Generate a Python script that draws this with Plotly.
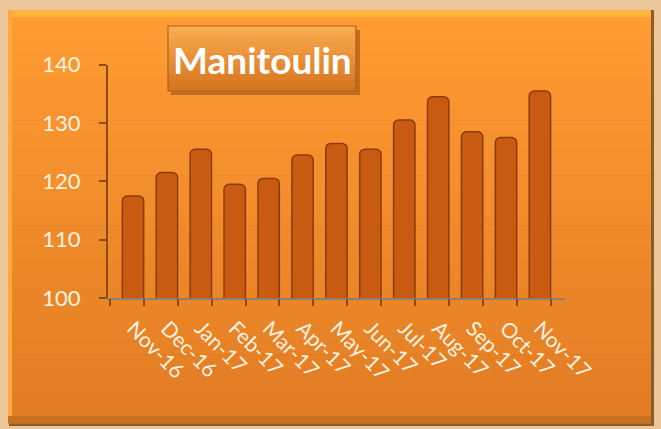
import plotly.graph_objects as go

W, H = 661, 429

months = ["Nov-16", "Dec-16", "Jan-17", "Feb-17", "Mar-17", "Apr-17", "May-17",
          "Jun-17", "Jul-17", "Aug-17", "Sep-17", "Oct-17", "Nov-17"]
values = [117.5, 121.5, 125.5, 119.5, 120.5, 124.5, 126.5, 125.5, 130.5, 134.5, 128.5, 127.5, 135.5]
y_ticks = [100, 110, 120, 130, 140]
title_text = "Manitoulin"


def px_x(p):
    return p / W


def px_y(p):
    return 1 - p / H


def mix(c1, c2, t):
    return "rgb(%d,%d,%d)" % tuple(round(a + (b - a) * t) for a, b in zip(c1, c2))


shapes = []
shapes.append(dict(type="rect", xref="paper", yref="paper", x0=0, x1=1, y0=0, y1=1,
                   fillcolor="#EAC69A", line=dict(width=0), layer="below"))
shapes.append(dict(type="rect", xref="paper", yref="paper", x0=px_x(9), x1=px_x(654),
                   y0=px_y(426), y1=px_y(10), fillcolor="#8E5A2A", line=dict(width=0), layer="below"))
top_c, bot_c = (255, 156, 50), (226, 124, 36)
N = 30
y_top, y_bot = 10, 423
for i in range(N):
    a = y_top + (y_bot - y_top) * i / N
    b = y_top + (y_bot - y_top) * (i + 1) / N + 0.6
    shapes.append(dict(type="rect", xref="paper", yref="paper", x0=px_x(8), x1=px_x(651),
                       y0=px_y(b), y1=px_y(a), fillcolor=mix(top_c, bot_c, i / (N - 1)),
                       line=dict(width=0), layer="below"))
shapes.append(dict(type="rect", xref="paper", yref="paper", x0=px_x(8), x1=px_x(651),
                   y0=px_y(17), y1=px_y(10), fillcolor="#FFB540", line=dict(width=0), layer="below"))
shapes.append(dict(type="rect", xref="paper", yref="paper", x0=px_x(8), x1=px_x(12),
                   y0=px_y(423), y1=px_y(10), fillcolor="#FFAA3C", line=dict(width=0), layer="below"))
shapes.append(dict(type="rect", xref="paper", yref="paper", x0=px_x(8), x1=px_x(651),
                   y0=px_y(423), y1=px_y(416), fillcolor="#C9731F", line=dict(width=0), layer="below"))

shapes.append(dict(type="rect", xref="paper", yref="paper", x0=px_x(171), x1=px_x(360),
                   y0=px_y(95), y1=px_y(30), fillcolor="rgba(120,60,10,0.45)", line=dict(width=0), layer="below"))
tb_top, tb_bot = (250, 170, 80), (214, 118, 32)
NT = 12
for i in range(NT):
    a = 26 + (91 - 26) * i / NT
    b = 26 + (91 - 26) * (i + 1) / NT + 0.6
    shapes.append(dict(type="rect", xref="paper", yref="paper", x0=px_x(168), x1=px_x(356),
                       y0=px_y(b), y1=px_y(a), fillcolor=mix(tb_top, tb_bot, i / (NT - 1)),
                       line=dict(width=0), layer="below"))
shapes.append(dict(type="rect", xref="paper", yref="paper", x0=px_x(168), x1=px_x(356),
                   y0=px_y(91), y1=px_y(26), fillcolor="rgba(0,0,0,0)",
                   line=dict(width=1.2, color="#B0601A"), layer="below"))

xr = [-0.737, 12.74]
fig = go.Figure()
fig.add_trace(go.Bar(
    x=months, y=values, width=0.63,
    marker=dict(color="#C95A12", line=dict(color="#8A3C08", width=1.5), cornerradius=5),
    showlegend=False, hoverinfo="x+y",
))
fig.add_trace(go.Scatter(x=[None], y=[None], xaxis="x2", showlegend=False))

fig.update_layout(
    width=W, height=H,
    margin=dict(l=0, r=0, t=0, b=0, pad=0, autoexpand=False),
    paper_bgcolor="#EAC69A", plot_bgcolor="rgba(0,0,0,0)",
    shapes=shapes,
    font=dict(family="Lato, sans-serif", color="#FFF4E0"),
    xaxis=dict(
        domain=[px_x(108), px_x(565)], range=xr, type="category", automargin=False,
        showgrid=False, showline=True, linecolor="#8E7E70", linewidth=2,
        ticks="", tickangle=45, tickfont=dict(size=21, color="#FFF4E0"),
        ticklabelstandoff=8,
    ),
    xaxis2=dict(
        overlaying="x", domain=[px_x(108), px_x(565)], range=xr, automargin=False,
        type="linear", anchor="y", tickmode="array",
        tickvals=[i - 0.68 for i in range(14)], ticks="outside", ticklen=7,
        tickcolor="#8A4A12", tickwidth=2, showticklabels=False, showgrid=False,
        zeroline=False, showline=False,
    ),
    yaxis=dict(
        domain=[px_y(298), px_y(64.7)], range=[100, 140], tickvals=y_ticks, automargin=False,
        showgrid=False, showline=True, linecolor="#8A4A12", linewidth=2,
        ticks="outside", ticklen=7, tickcolor="#8A4A12", tickwidth=2,
        tickfont=dict(size=22, color="#FFF4E0"), ticklabelstandoff=14,
        zeroline=False,
    ),
    annotations=[dict(
        text="<b>%s</b>" % title_text, xref="paper", yref="paper",
        x=px_x(262), y=px_y(59), xanchor="center", yanchor="middle", showarrow=False,
        font=dict(family="Lato, sans-serif", size=37, color="#FFFFFF"),
    )],
)

fig.write_html("out.html", config={"displayModeBar": False},
               post_script="document.body.style.margin='0';document.body.style.overflow='hidden';")
